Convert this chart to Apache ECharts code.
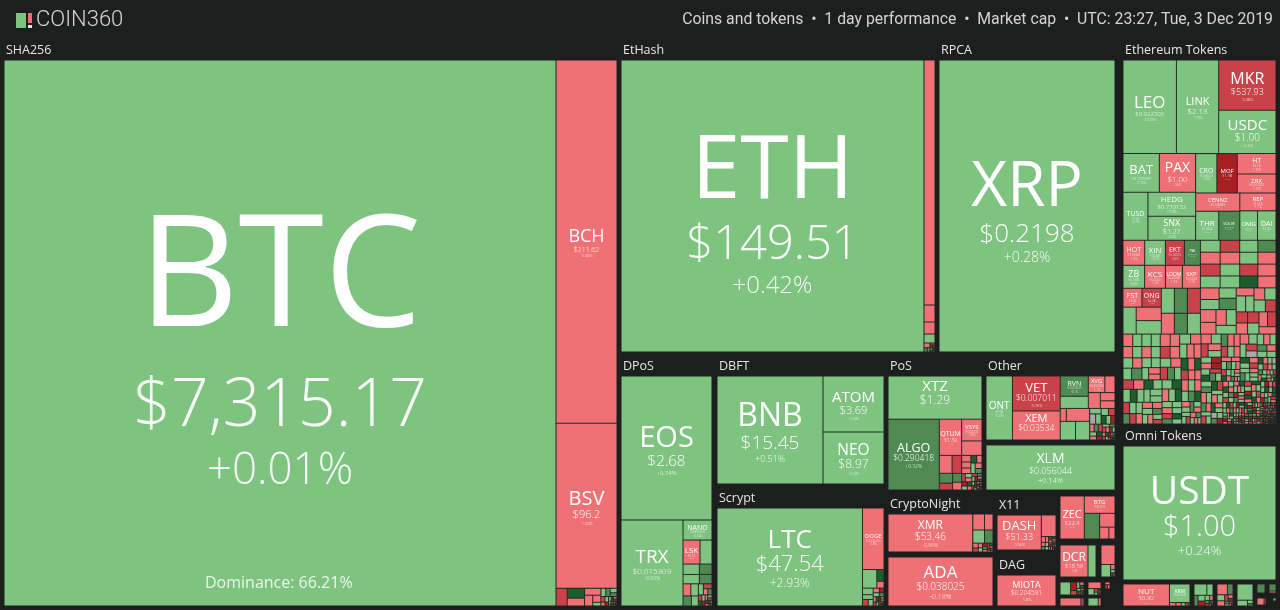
<!DOCTYPE html>
<html><head><meta charset="utf-8">
<style>html,body{margin:0;padding:0;background:#1d1e1e}#c{width:1280px;height:610px}</style>
<script src="https://cdn.jsdelivr.net/npm/echarts@6/dist/echarts.min.js"></script>
</head><body><div id="c"></div>
<script>
// one-day change buckets used for the unlabeled tiles (percent)
const G=2,R=-2,M=-7,D=-14,E=7,F=14,X=null;

const sha256=[['BTC',301392,'$7,315.17','+0.01%',0.01],['BCH',22143,'$211.62','-0.98%',-0.98],['BSV',10065,'$96.2','-1.03%',-1.03],
 [198,M],[170,F],[136,R],[112,R],[88,R],[58,R],[30,G],[40,G],[36,E],[30,G],[26,E],[22,M],[20,G],[16,R],[14,D],[12,G],[10,F],[9,R],[8,D],[7,G],[6,M],[5,R],[5,F],[4,G],[4,D],[3,R],[3,G],[2,M],[2,F]];
const etHash=[['ETH',88476,'$149.51','+0.42%',0.42],[2695,R],[187,R],[132,R],[99,G],[28,R],[14,E],[12,E],[10,M],[8,F],[7,D],[6,G],[5,F],[4,D],[3,G],[2,M]];
const rpca=[['XRP',51392,'$0.2198','+0.28%',0.28]];
const dpos=[['EOS',13104,'$2.68','+0.34%',0.34],['TRX',5332,'$0.015309','+0.06%',0.06],['NANO',580,'$0.800000','+0.16%',0.16],['LSK',408,'$0.72','-0.9%',-0.9],[288,G],
 [169,G],[153,G],[130,E],[120,E],[94,R],[91,G],[84,E],[70,G],[56,G],[42,M],[28,R],[26,E],[22,M],[20,G],[18,F],[15,D],[14,R],[12,G],[11,M],[10,F],[8,R],[7,D],[6,G],[5,M],[3,R]];
const dbft=[['BNB',11448,'$15.45','+0.51%',0.51],['ATOM',3416,'$3.69','+0.9%',0.9],['NEO',3172,'$8.97','+0.3%',0.3]];
const scrypt=[['LTC',14210,'$47.54','+2.93%',2.93],['DOGE',1320,'$0.002200','-0.8%',-0.8],[266,G],[84,F],[49,R],[70,G],[50,G],[38,M],[32,G],[28,R],[24,G],[22,D],[18,E],[16,R],[14,F],[12,M],[10,G],[9,D],[8,R],[7,G],[6,M],[5,F],[4,R],[3,D],[3,G],[2,M],[2,F]];
const pos=[['XTZ',4042,'$1.29','+3.68%',3.68],['ALGO',3621,'$0.290418','+6.32%',6.32],['QTUM',805,'$1.39','-1.2%',-1.2],['VSYS',441,'$0.05000','-0.9%',-0.9],[294,R],[228,R],[171,M],[130,E],[91,M],[80,E],
 [70,R],[60,R],[55,R],[50,R],[44,F],[40,R],[45,G],[38,R],[34,E],[30,M],[28,G],[26,R],[24,D],[22,G],[20,F],[18,R],[16,M],[15,G],[14,D],[13,E],[12,R],[11,F],[10,G],[9,D],[8,M],[8,F],[7,G],[7,R],[6,D],[6,E],[5,M],[5,G],[4,F],[4,D],[3,R],[3,G]];
const otherCoins=[['ONT',1664,'$0.58','+0.25%',0.25],['VET',1645,'$0.007011','-5.76%',-5.76],['XEM',1363,'$0.03534','-1.3%',-1.3],
 ['RVN',560,'$0.024000','+6.1%',6.1],[336,G],['XVG',270,'$0.003000','-1.1%',-1.1],[165,R],[187,R],[119,R],[110,R],[77,R],
 [297,R],[280,G],[260,G],[62,G],[60,X],[55,G],[50,G],[46,M],[42,F],[40,G],[36,D],[34,R],[32,E],[30,M],[28,G],[26,R],[24,F],[22,D],[20,G],[19,M],[18,R],[16,E],[15,D],[14,G],[13,R],[12,F],[11,M],[10,G],[9,D],[8,R],[7,E],[6,M],[5,G],[5,D],[4,R],[4,F],[3,G]];
const xlm=[['XLM',5805,'$0.056044','+0.14%',0.14]];
const cryptoNight=[['XMR',3230,'$53.46','-0.96%',-0.96],[187,R],[136,R],[154,G],[112,E],[26,R],[22,M],[20,R],[18,G],[16,D],[14,E],[12,R],[11,M],[10,F],[8,R],[7,D],[6,G],[5,M],[4,R]];
const ada=[['ADA',5145,'$0.038025','-0.18%',-0.18]];
const x11=[['DASH',1540,'$51.33','-0.56%',-0.56],[315,R],[24,R],[18,R],[16,R],[14,G],[13,E],[12,G],[11,D],[10,R],[9,F],[8,G],[8,M],[7,E],[7,D],[6,G],[6,R],[5,F],[5,M],[4,G],[4,D],[3,R],[3,F],[2,M]];
const dag=[['MIOTA',1829,'$0.204591','-1.8%',-1.8]];
const zecGroup=[['ZEC',1032,'$22.4','-0.7%',-0.7],['BTG',527,'$6.04','-0.9%',-0.9],[390,E],[210,R],[108,R],[72,R]];
const dcrGroup=[['DCR',896,'$18.56','-1.0%',-1.0],[256,G]];
const smallA=[[266,R],[117,G],[22,R],[14,G],[10,F],[8,M]];
const smallB=[[130,G],[50,D],[26,M],[18,G],[14,R],[12,F],[10,G],[8,D],[7,E],[6,R],[5,M],[4,G],[3,F],[2,R]];
const smallC=[[91,R],[42,G],[14,M],[11,G],[8,F],[6,R],[4,D],[3,G]];
const smallD=[[4,R],[3,M],[3,R]];
const smallE=[[150,R],[22,M]];
const smallF=[[80,G],[22,R]];
const omni=[['USDT',20502,'$1.00','+0.24%',0.24]];
const nutGroup=[['NUT',1012,'$0.90','-0.7%',-0.7],['KRM',378,'$0.05000','+0.9%',0.9],[22,R],[18,R],[14,G],[10,M],[6,E]];
const tinyA=[[150,G],[72,G],[44,E],[42,G],[36,D],[24,G],[18,R],[14,E],[10,M],[8,F],[6,G],[5,R],[3,D]];
const tinyB=[[112,R],[60,E],[46,G],[40,R],[22,M],[18,R],[14,D],[12,E],[10,G],[8,M],[6,R],[4,F]];
const tinyC=[[240,G],[56,G],[18,G],[12,E]];
const tinyD=[[81,E]];
const tinyE=[[22,R],[6,M]];
const tinyG=[[49,E],[14,R]];
const tinyH=[[9,G]];

// Ethereum Tokens, read block by block
const ethA=[['LEO',4790,'$0.922306','+0.03%',0.03],['LINK',3790,'$2.13','+1.75%',1.75],['MKR',2760,'$537.93','-5.38%',-5.38],['USDC',2380,'$1.00','+0.3%',0.3]];
const ethB=[['BAT',1340,'$0.197097','+1.12%',1.12],['PAX',1340,'$1.00','-0.6%',-0.6],['TUSD',1150,'$1.00','+0.1%',0.1],['HEDG',1100,'$0.730132','+1.75%',1.75],['SNX',1100,'$1.27','+2.0%',2.0]];
const ethC=[['CRO',800,'$0.03000','+0.5%',0.5],['MOF',770,'$1.48','-11.2%',-11.2],['HT',760,'$3.16','-1.35%',-1.35],['ZRX',700,'$0.244203','-1.40%',-1.40]];
const ethD1=[['CENNZ',775,'$0.128999','-1.2%',-1.2],['THR',640,'$0.5000','+0.6%',0.6],['SOLVE',585,'$0.20000','+6.2%',6.2]];
const ethD2=[['REP',620,'$10.16','-1.1%',-1.1],['OMG',500,'$0.6400','+0.9%',0.9],['DAI',520,'$1.00','+0.2%',0.2]];
const ethE=[['HOT',520,'$0.00060','-1.5%',-1.5],['XIN',496,'$120.85','+0.7%',0.7],['ZB',476,'$0.1900','+0.6%',0.6],['KCS',458,'$0.5700','-1.3%',-1.3]];
const ethF=[['EKT',456,'$0.00510','-5.6%',-5.6],['PAI',384,'$0.02200','+6.3%',6.3],['LOOM',374,'$0.02000','-1.2%',-1.2],['SXP',396,'$0.5200','-1.4%',-1.4]];
const ethG=[['FST',342,'$1.35','-1.8%',-1.8],['ONG',350,'$0.38','-5.4%',-5.4],[340,G],[325,R],[325,G]];
const ethH=[[312,G],[312,E],[312,M],[260,R],[260,E],[260,G]];
const ethI=[[226,G],[224,R],[224,M],[222,R],[226,M],[224,G],[222,G],[224,G]];
const ethJ=[[208,G],[206,G],[208,E],[207,R],[207,M],[206,F],[208,R],[206,R]];
const ethK=[[208,R],[180,G],[170,G],[186,E],[190,R],[175,R],[155,R],[150,G],[170,G]];
const ethL=[[136,R],[144,G],[128,G],[125,R],[130,G],[130,G],[121,M],[121,M],[121,R],[121,M],[121,G],[121,R],[121,M],[121,R]];
const blockL1=[[116,R],[108,G],[104,R],[100,G],[112,G],[108,G],[100,R],[98,G],[96,G],[92,R],[96,G],[116,E],[88,G],[84,G],[78,G],[72,R],[64,R]];
const blockL2=[[118,R],[112,R],[110,M],[108,R],[104,G],[100,R],[98,G],[96,R],[94,R],[92,G],[90,R],[88,M],[84,E],[80,G],[78,F],[76,R],[72,F],[68,M],[62,R],[58,R]];
const blockL3=[[96,M],[94,R],[90,G],[86,F],[84,G],[82,F],[80,G],[78,G],[76,G],[74,G],[72,M],[70,G],[68,G],[66,E],[64,M],[62,R],[60,R],[58,G],[56,R],[54,E],[50,G],[48,R],[44,G],[40,M]];
const blockL4=[[88,G],[84,F],[80,R],[78,G],[76,F],[72,R],[70,G],[68,R],[66,G],[64,E],[62,F],[60,G],[58,R],[56,G],[54,G],[52,M],[50,E],[48,F],[46,G],[44,R],[42,G],[40,E],[38,G],[36,R],[34,G],[32,G],[30,M],[28,R],[26,E],[24,G],[22,R],[20,G]];
const blockR1=[[96,R],[92,G],[90,M],[84,R],[82,G],[78,E],[74,R],[70,R],[68,M],[66,G],[62,R],[60,G],[58,R],[56,D],[54,D],[52,G],[50,F],[48,M],[46,E],[44,G],[42,R],[40,G],[38,E],[36,R],[34,G],[32,R],[30,M],[28,G],[26,F],[24,R],[22,G],[20,R],[18,G],[16,E],[14,R],[12,G]];
const blockR2=[[84,R],[80,G],[76,G],[72,M],[70,X],[68,G],[64,R],[62,G],[60,E],[58,G],[56,R],[54,G],[50,F],[48,G],[46,R],[44,M],[42,G],[40,E],[38,G],[36,R],[34,G],[33,G],[31,F],[30,R],[28,G],[27,M],[26,G],[25,X],[24,R],[22,G],[21,E],[20,G],[19,R],[18,G],[17,F],[16,R],[15,G],[14,M],[13,G],[12,R],[11,E],[10,G],[9,F]];
const blockR3=[[58,G],[56,E],[54,R],[52,G],[50,F],[48,M],[47,G],[46,R],[44,G],[43,E],[42,R],[40,G],[39,M],[38,G],[37,F],[36,R],[35,G],[34,X],[33,E],[32,G],[31,D],[30,R],[29,G],[29,F],[28,R],[27,G],[26,M],[26,E],[25,G],[24,R],[24,F],[23,G],[22,R],[22,G],[21,D],[21,E],[20,G],[20,R],[19,X],[19,G],[18,F],[18,M],[17,G],[17,R],[16,E],[16,G],[15,D],[15,R],[14,G],[14,F],[14,G],[13,R],[13,M],[13,G],[12,E],[12,R],[12,F],[11,G],[11,D],[11,R],[10,G],[10,M],[10,F],[9,G],[9,R],[9,E],[8,G],[8,D],[8,R],[7,F],[7,G],[7,M],[6,R],[6,G],[6,F],[5,D],[5,G],[5,R],[4,E],[4,M]];
const blockR4=[[34,M],[33,G],[31,F],[30,R],[29,G],[28,D],[27,F],[26,R],[25,G],[25,M],[24,F],[23,R],[23,G],[22,D],[21,G],[21,F],[20,R],[20,M],[19,G],[19,F],[18,R],[18,G],[17,D],[17,E],[17,R],[16,F],[16,G],[15,M],[15,R],[15,F],[14,G],[14,D],[14,R],[13,E],[13,F],[13,M],[12,G],[12,R],[12,D],[12,F],[11,G],[11,R],[11,M],[11,F],[10,E],[10,D],[10,G],[10,R],
 [9,F],[9,M],[9,G],[9,D],[9,R],[8,F],[8,G],[8,M],[8,R],[8,D],[8,X],[7,G],[7,F],[7,R],[7,M],[7,E],[7,D],[7,G],[6,R],[6,F],[6,M],[6,G],[6,D],[6,R],[6,F],[6,E],[6,M],[5,G],[5,D],[5,R],[5,F],[5,M],[5,G],[5,R],[5,D],[5,F],[5,E],[5,M],[5,R],
 [4,G],[4,F],[4,D],[4,R],[4,M],[4,G],[4,F],[4,R],[4,D],[4,E],[4,M],[4,G],[4,F],[4,R],[4,D],[4,M],[3,G],[3,R],[3,F],[3,D],[3,M],[3,G],[3,E],[3,R],[3,F],[3,D],[3,M],[3,R],[3,G],[3,F],[3,D],[3,R],[3,M],[3,G],[3,F],[3,D],[2,R],[2,M],[2,G],[2,F],[2,D],[2,R],[2,M],[2,E],[2,F],[2,D],[2,R],[2,G],[2,M],[2,F],[2,D],[2,R],[2,M],[2,G],[2,F],[2,R]];
const ethTokens=[[ethA,[ethB,[ethC,[ethD1,ethD2]]]],
 [[[[ethE,ethF],[ethG,ethH]],[[ethI,ethJ],[ethK,ethL]]],
  [[[blockL1,blockL2],[blockL3,blockL4]],[[blockR1,blockR2],[blockR3,blockR4]]]]];

// Label sizes: name, price, change
const labelSizes={BTC:[155,66,44],ETH:[88,47,24],XRP:[62,26,14],USDT:[39,29,13],BCH:[18,7,4],BSV:[20,11,4],EOS:[29,15,6],TRX:[19,8,5],NANO:[7,3,3],LSK:[8,3,2],BNB:[32,19,9],ATOM:[15,11,4],NEO:[15.5,12,4],LTC:[26,22,12],DOGE:[6,3,3],XTZ:[15,12,9],ALGO:[12.5,8.5,5],QTUM:[7,5,2],VSYS:[6,3,3],ONT:[10,3,3],VET:[13,8.5,4],XEM:[11,8.5,5],RVN:[7,3,3],XVG:[6,3,3],XLM:[14,9,7.5],XMR:[12,10,5],ADA:[17,10,7],DASH:[13,9,4],MIOTA:[9,6.5,4],ZEC:[11,6,2],BTG:[6,4,2],DCR:[12,6,3],NUT:[8,6,2],KRM:[5,3,2],
 LEO:[17,6,4],LINK:[11,8,3],MKR:[16,9,4],USDC:[15,10,4],BAT:[13,4,3],PAX:[14,8,3],TUSD:[7,3,3],HEDG:[8,6,3],SNX:[9,7,3],CRO:[7,3,3],MOF:[6,4,2],HT:[7,3,3],ZRX:[6,3,3],CENNZ:[6,3,2],REP:[6,3,3],THR:[8,3,2],SOLVE:[4,2,2],OMG:[6,2,2],DAI:[7,3,2],HOT:[7,3,3],XIN:[8,3,3],EKT:[7,3,3],PAI:[4,2,2],ZB:[9,3,3],KCS:[8,3,3],LOOM:[5,3,3],SXP:[6,3,3],FST:[7,3,2],ONG:[7,3,2]};

// Panels: where each block sits on the page, its heading, its tiles
const panels=[
 [sha256,'SHA256',4,41,613,565],[etHash,'EtHash',621,41,314,311],[rpca,'RPCA',939,41,176,311],[ethTokens,'Ethereum Tokens',1123,41,153,383],
 [omni,'Omni Tokens',1123,427,153,153],[dpos,'DPoS',621,357,91,249],[dbft,'DBFT',717,357,167,127],[scrypt,'Scrypt',717,489,167,117],
 [pos,'PoS',888,357,94,133],[otherCoins,'Other',986,357,129,83],[xlm,null,986,445,129,45],[cryptoNight,'CryptoNight',888,495,105,57],
 [ada,null,888,557,105,49],[x11,'X11',997,496,59,54],[dag,'DAG',997,556,59,50],[zecGroup,null,1060,496,55,43],[dcrGroup,null,1060,545,36,32],
 [smallA,null,1101,545,14,32],[smallB,null,1060,582,24,13],[smallC,null,1088,582,13,13],[smallD,null,1105,582,5,7],[smallE,null,1060,598,24,8],[smallF,null,1088,598,13,8],
 [nutGroup,null,1123,584,67,22],[tinyA,null,1194,584,19,22],[tinyB,null,1217,584,16,22],[tinyC,null,1237,584,16,22],[tinyD,null,1257,584,8,9],[tinyE,null,1257,598,9,7],[tinyG,null,1269,584,7,9],[tinyH,null,1273,598,3,3]
];

const BG='#1d1e1e', FONT='"Open Sans"', HEAD=19;
const LINE_P=1, LINE_C=1.4;
const GAP_COLOR='rgba(29,30,30,.62)';
function perfColor(p){
  if(p===null) return '#a9a9a9';
  if(p>=10) return '#1c5c2d';
  if(p>=5) return '#4f8a52';
  if(p>=0) return '#7ec480';
  if(p>-5) return '#ef7175';
  if(p>-10) return '#c9424a';
  return '#a62022';
}
const isLabeled=e=>typeof e[0]==='string';
const isGroup=e=>Array.isArray(e[0]);
function weight(e){ return isGroup(e)?e.reduce((s,c)=>s+weight(c),0):(isLabeled(e)?e[1]:e[0]); }
function groupNode(children){
  return {name:'',children,itemStyle:{borderWidth:0,gapWidth:0,color:'#333',borderColor:'#333'},label:{show:false},upperLabel:{show:false}};
}
function leaf(e,w,h){
  const style={borderWidth:.5,borderColor:GAP_COLOR,gapWidth:0};
  if(!isLabeled(e)){
    style.color=perfColor(e[1]);
    return {name:'',value:e[0],label:{show:false},upperLabel:{show:false},itemStyle:style};
  }
  const [name,value,price,change,perf]=e;
  style.color=perfColor(perf);
  const s=labelSizes[name]||[6,3,2];
  const sh=s[0]>=25?Math.round(s[0]/60):0;
  const lineN=1+s[0]*.00125;
  let block=s[0]*lineN+s[1]*LINE_P+s[2]*LINE_C;
  const squeeze=block>h-1?(h-1)/block:1;
  block*=squeeze;
  const pad=Math.min(Math.max(0,(h-block)/2+s[0]*.08),Math.max(0,h-block-.5));
  const line=(size,lh,op,wt)=>({fontSize:size,lineHeight:size*lh*squeeze,color:'rgba(255,255,255,'+op+')',fontFamily:FONT,fontWeight:wt,
    textShadowColor:'rgba(0,0,0,.3)',textShadowOffsetX:sh,textShadowOffsetY:sh,textShadowBlur:0});
  return {name,value,itemStyle:style,upperLabel:{show:false},
    label:{show:true,padding:[pad,0,0,0],overflow:'none',position:'inside',align:'center',verticalAlign:'middle',
      formatter:`{n|${name}}\n{p|${price}}\n{c|${change}}`,
      rich:{n:line(s[0],lineN,1,400),p:line(s[1],LINE_P,.97,300),c:line(s[2],LINE_C,.92,300)}}};
}
// Splits a list in two near the middle of its total, cutting the longer side each time
function splitTree(list,w,h){
  if(!isGroup(list)) return leaf(list,w,h);
  if(list.length===1) return splitTree(list[0],w,h);
  const total=weight(list),target=total/2;
  let run=0,k=0;
  while(k<list.length-1 && run+weight(list[k])<target){run+=weight(list[k]);k++;}
  const upper=run+weight(list[k]);
  if(k===0||upper-target<=target-run) k++;
  const a=list.slice(0,k),b=list.slice(k),share=weight(a)/total;
  const wide=w>h;
  return groupNode([
    splitTree(a,wide?w*share:w,wide?h:h*share),
    splitTree(b,wide?w*(1-share):w,wide?h:h*(1-share))]);
}
const series=panels.map(([items,heading,left,top,width,height])=>{
  let node=splitTree(items,width,heading?height-HEAD:height);
  if(heading){
    node=groupNode(node.children?node.children:[node]);
    node.name=heading;
    node.itemStyle={borderWidth:0,gapWidth:0,color:BG,borderColor:BG};
    node.upperLabel={show:true,height:HEAD,padding:[0,0,0,2],color:'#e6e6e6',fontSize:12.5,fontFamily:FONT,fontWeight:500,verticalAlign:'middle'};
  }
  return {type:'treemap',left,top,width,height,roam:false,nodeClick:false,silent:true,breadcrumb:{show:false},
    sort:false,squareRatio:1e-6,visibleMin:0,animation:false,
    itemStyle:{borderColor:'#333',gapWidth:0,borderWidth:0},label:{show:false},upperLabel:{show:false},levels:[],data:[node]};
});
const chart=echarts.init(document.getElementById('c'),null,{renderer:'canvas'});
chart.setOption({
  backgroundColor:BG,animation:false,
  title:[{text:'Coins and tokens  •  1 day performance  •  Market cap  •  UTC: 23:27, Tue, 3 Dec 2019',right:7,top:12,padding:0,
          textStyle:{color:'#d4d4d4',fontSize:15.8,fontWeight:400,fontFamily:'Roboto'}},
         {text:'COIN360',left:36,top:9,padding:0,textStyle:{color:'#d4d4d4',fontSize:22,fontWeight:300,fontFamily:'Roboto'}}],
  graphic:[
    {type:'rect',shape:{x:16,y:13,width:10,height:15},style:{fill:'#7ec480'}},
    {type:'rect',shape:{x:28,y:13,width:4,height:10},style:{fill:'#ef7175'}},
    {type:'rect',shape:{x:28,y:25,width:4,height:3},style:{fill:'#e6e6e6'}},
    {type:'text',z:100,left:205,top:575,style:{text:'Dominance: 66.21%',fill:'rgba(255,255,255,.85)',fontSize:16,fontFamily:FONT,fontWeight:400}}
  ],
  series
});
</script></body></html>
